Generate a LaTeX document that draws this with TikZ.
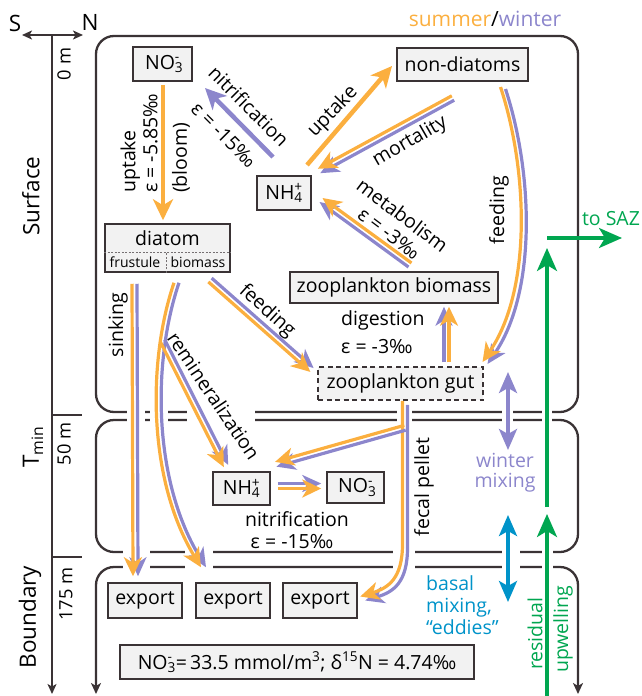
\documentclass[tikz,border=0pt]{standalone}
\usepackage{fontspec}
\setmainfont{Open Sans}
\usetikzlibrary{arrows.meta,calc}
\definecolor{orng}{HTML}{FBAF3F}
\definecolor{purp}{HTML}{8C86CC}
\definecolor{grn}{HTML}{00A650}
\definecolor{blu}{HTML}{0093C9}
\definecolor{dark}{HTML}{3A3335}
\definecolor{boxfill}{HTML}{F2F2F2}
\newcommand{\subsup}[2]{\rlap{\textsubscript{#1}}\textsuperscript{#2}}
\newcommand{\dbl}[3]{%
  \draw[pline, transform canvas={shift={#1}}] #3;
  \draw[oline, transform canvas={shift={#2}}] #3;}
\tikzset{
  every node/.style={font=\fontsize{19.5}{22}\selectfont, inner sep=0pt},
  box/.style={draw=dark, line width=1.5pt, fill=boxfill},
  small/.style={font=\fontsize{14}{16}\selectfont},
  big/.style={font=\fontsize{22.5}{26}\selectfont},
  axlbl/.style={font=\fontsize{18.3}{21}\selectfont},
  region/.style={draw=dark, line width=2.3pt, rounded corners=18pt},
  gapcut/.style={fill=white, draw=none},
  sepline/.style={draw=dark!70, line width=0.7pt, dash pattern=on 2pt off 1.5pt},
  oline/.style={draw=orng, line width=3.2pt, -{Stealth[length=19pt,width=18pt,inset=5.5pt]}},
  pline/.style={draw=purp, line width=3.2pt, -{Stealth[length=19pt,width=17pt,inset=5.5pt]}},
  osingle/.style={draw=orng, line width=4.5pt, -{Stealth[length=21pt,width=20pt,inset=6pt]}},
  psingle/.style={draw=purp, line width=4.5pt, -{Stealth[length=21pt,width=20pt,inset=6pt]}},
  twohead/.style={line width=3.5pt, {Stealth[length=21pt,width=18pt,inset=5pt]}-{Stealth[length=21pt,width=18pt,inset=5pt]}},
  greenarrow/.style={draw=grn, line width=3.3pt, -{Stealth[length=23pt,width=20pt,inset=6pt]}},
  axisline/.style={draw=dark, line width=1.5pt},
  axtip/.style={-{Stealth[length=10pt,width=9pt,inset=2.5pt]}},
}
\begin{document}
\begin{tikzpicture}[x=1pt,y=-1pt]
\useasboundingbox (0,0) rectangle (641,696);

% regions
\draw[region] (96,36) rectangle (578,412);
\draw[region] (96,420) rectangle (578,552);
\draw[region, {Stealth[length=11pt,width=10pt,inset=3pt]}-{Stealth[length=11pt,width=10pt,inset=3pt]}] (96,694) -- (96,567) -- (578,567) -- (578,694);

% gaps in the region borders
\foreach \a/\b in {127/145,150/168,187/255,397/412,502/513,542/552}
  \fill[gapcut] (\a,405) rectangle (\b,427);
\foreach \a/\b in {123/150,185/213,393/415,502/520,542/553}
  \fill[gapcut] (\a,547) rectangle (\b,572);

% axis
\draw[axisline, axtip] (52,35) -- (52,694);
\draw[axisline, {Stealth[length=10pt,width=9pt,inset=2.5pt]}-{Stealth[length=10pt,width=9pt,inset=2.5pt]}] (22,35) -- (83,35);
\draw[axisline] (52,415) -- (82,415);
\draw[axisline] (52,557) -- (82,557);
\node[big] (S) at (15,23) {S};
\node[big] (N) at (90,22) {N};
\node[axlbl, rotate=90] (m0) at (64,64) {0 m};
\node[axlbl, rotate=90] (m50) at (64,444) {50 m};
\node[axlbl, rotate=90] (m175) at (66,594) {175 m};
\node[big, rotate=90] (surf) at (31,196) {Surface};
\node[big, rotate=90] (tmin) at (33,447) {T\textsubscript{min}};
\node[big, rotate=90] (bound) at (30,617) {Boundary};

% title
\node[font=\fontsize{21}{24}\selectfont] (title) at (485,19) {\textcolor{orng}{summer}/\textcolor{purp}{winter}};

% boxes
\node[box, minimum width=59pt, minimum height=34pt] (no3top) at (162.5,64) {NO\subsup{3}{-}};
\node[box, minimum width=131pt, minimum height=33pt] (nondiatoms) at (462.5,64.5) {non-diatoms};
\node[box, minimum width=54pt, minimum height=34pt] (nh4top) at (284,193) {NH\subsup{4}{+}};
\node[box, minimum width=125pt, minimum height=48pt] (diatom) at (167.5,248) {};
\node (diatomlbl) at (167.5,238) {diatom};
\draw[sepline] ($(diatom.west)+(0,4)$) -- ($(diatom.east)+(0,4)$);
\draw[sepline] ($(diatom.south)+(-1.5,0)$) -- ($(diatom.south)+(-1.5,-20)$);
\node[small] (frustule) at (135,262) {frustule};
\node[small] (biomass) at (198,262) {biomass};
\node[box, minimum width=208pt, minimum height=31pt] (zoobiomass) at (394,287.5) {zooplankton biomass};
\node[box, dash pattern=on 5pt off 3.5pt, minimum width=165pt, minimum height=33pt] (zoogut) at (400.5,383.5) {zooplankton gut};
\node[box, minimum width=57pt, minimum height=33pt] (nh4mid) at (241.5,488.5) {NH\subsup{4}{+}};
\node[box, minimum width=57pt, minimum height=31pt] (no3mid) at (355.5,487.5) {NO\subsup{3}{-}};
\node[box, minimum width=74pt, minimum height=35pt] (exp1) at (145,600.5) {export};
\node[box, minimum width=74pt, minimum height=35pt] (exp2) at (233,600.5) {export};
\node[box, minimum width=74pt, minimum height=35pt] (exp3) at (320,600.5) {export};
\node[box, minimum width=354pt, minimum height=34pt] (nitrate) at (297,662) {NO\subsup{3}{-}\,=\,33.5 mmol/m\textsuperscript{3}; δ\textsuperscript{15}N = 4.74‰};

% single-colour arrows
\draw[osingle] ([shift={(0.5,3)}]no3top.south) -- ([shift={(-4.5,-3)}]diatom.north);
\draw[psingle] ([shift={(-11,-36)}]nh4top.center) -- ([shift={(42.5,24)}]no3top.center);
\draw[osingle] ([shift={(23,-28)}]nh4top.center) -- ([shift={(-70.5,1.5)}]nondiatoms.center);

% double (summer/winter) arrows
\dbl{(1.2,2.2)}{(-1.2,-2.2)}{([shift={(-9.5,33.5)}]nondiatoms.center) -- ([shift={(35,-22)}]nh4top.center)}
\dbl{(-1.5,2)}{(1.5,-2)}{([shift={(16,-22.5)}]zoobiomass.center) -- ([shift={(37,7)}]nh4top.center)}
\dbl{(2.5,1)}{(-2.5,-1)}{([shift={(40.5,23.5)}]nondiatoms.center) .. controls +(27,82) and +(50,-73) .. ([shift={(84.5,-20.5)}]zoogut.center)}
\dbl{(1.65,-1.9)}{(-1.65,1.9)}{([shift={(42.5,32)}]diatom.center) -- ([shift={(-88.5,-13.5)}]zoogut.center)}
\dbl{(-2.5,0)}{(2.5,0)}{([shift={(46,-4)}]zoogut.north) -- ([shift={(52.5,3)}]zoobiomass.south)}
\dbl{(2.5,0)}{(-2.5,0)}{([shift={(-33,11)}]diatom.south) -- ([shift={(-9.5,-6)}]exp1.north)}
\dbl{(2.5,0)}{(-2.5,0)}{([shift={(9,10)}]diatom.south) .. controls +(-26.5,78) and +(-53.5,-88) .. ([shift={(-29.5,-15)}]exp2.north)}
\dbl{(2.2,-1.1)}{(-2.2,1.1)}{([shift={(-5,68)}]diatom.south) -- ([shift={(-15.5,-22.5)}]nh4mid.center)}
\dbl{(2.5,2)}{(-2.5,-2)}{([shift={(4.5,2)}]zoogut.south) -- ++(0,143) .. controls +(0,35) and +(28,-8.5) .. ([shift={(5,-2)}]exp3.east)}
\dbl{(0.7,2.4)}{(-0.7,-2.4)}{([shift={(4.5,27)}]zoogut.south) -- ([shift={(5,-7)}]nh4mid.north east)}
\dbl{(0,-2.5)}{(0,2.5)}{([shift={(7,-2.5)}]nh4mid.east) -- ([shift={(-5,-1.5)}]no3mid.west)}

% mixing and upwelling
\coordinate (wm1) at (508,372);
\coordinate (wm2) at (508,450);
\coordinate (bm1) at (508,515);
\coordinate (bm2) at (508,602);
\draw[twohead, draw=purp] (wm1) -- (wm2);
\draw[twohead, draw=blu] (bm1) -- (bm2);
\coordinate (up1b) at (547,696);
\coordinate (up1t) at (547,514);
\coordinate (up2b) at (547,507);
\coordinate (up2t) at (547,248);
\coordinate (saz0) at (547,238);
\coordinate (saz1) at (622,238);
\draw[greenarrow] (up1b) -- (up1t);
\draw[greenarrow] (up2b) -- (up2t);
\draw[greenarrow] (saz0) -- (saz1);

% labels
\node[rotate=90, anchor=west, align=left] (upt1) at (139,193) {uptake\\ε = -5.85‰};
\node[rotate=90, anchor=west] (bloom) at (181,193) {(bloom)};
\node[rotate=-45] (nitr1) at (249,106) {nitrification};
\node[rotate=-45] (eps1) at (224,135) {ε = -15‰};
\node[rotate=46] (upt2) at (333,112) {uptake};
\node[rotate=30] (mort) at (410,142) {mortality};
\node[rotate=-37, align=center] (metab) at (396,224) {metabolism\\ε = -3‰};
\node[rotate=90] (feed1) at (499,210) {feeding};
\node[rotate=-42] (feed2) at (267,311) {feeding};
\node[anchor=west] (dig) at (341,320) {digestion};
\node[anchor=west] (dige) at (341,347) {ε = -3‰};
\node[rotate=90] (sink) at (118,325) {sinking};
\node[rotate=-56] (remin) at (214,396) {remineralization};
\node[rotate=90] (fecal) at (424,487) {fecal pellet};
\node (nitr2) at (297,519) {nitrification};
\node (eps2) at (292,542) {ε = -15‰};
\node[text=purp, align=center, font=\fontsize{19.5}{20}\selectfont] (wmix) at (505,473) {winter\\mixing};
\node[text=blu, align=left, anchor=west] (bmix) at (426,605) {basal\\mixing,\\“eddies”};
\node[text=grn, rotate=90, anchor=west] (resid) at (535,670) {residual};
\node[text=grn, rotate=90, anchor=west] (upw) at (563,673) {upwelling};
\node[text=grn] (saz) at (611,219) {to SAZ};
\end{tikzpicture}
\end{document}
